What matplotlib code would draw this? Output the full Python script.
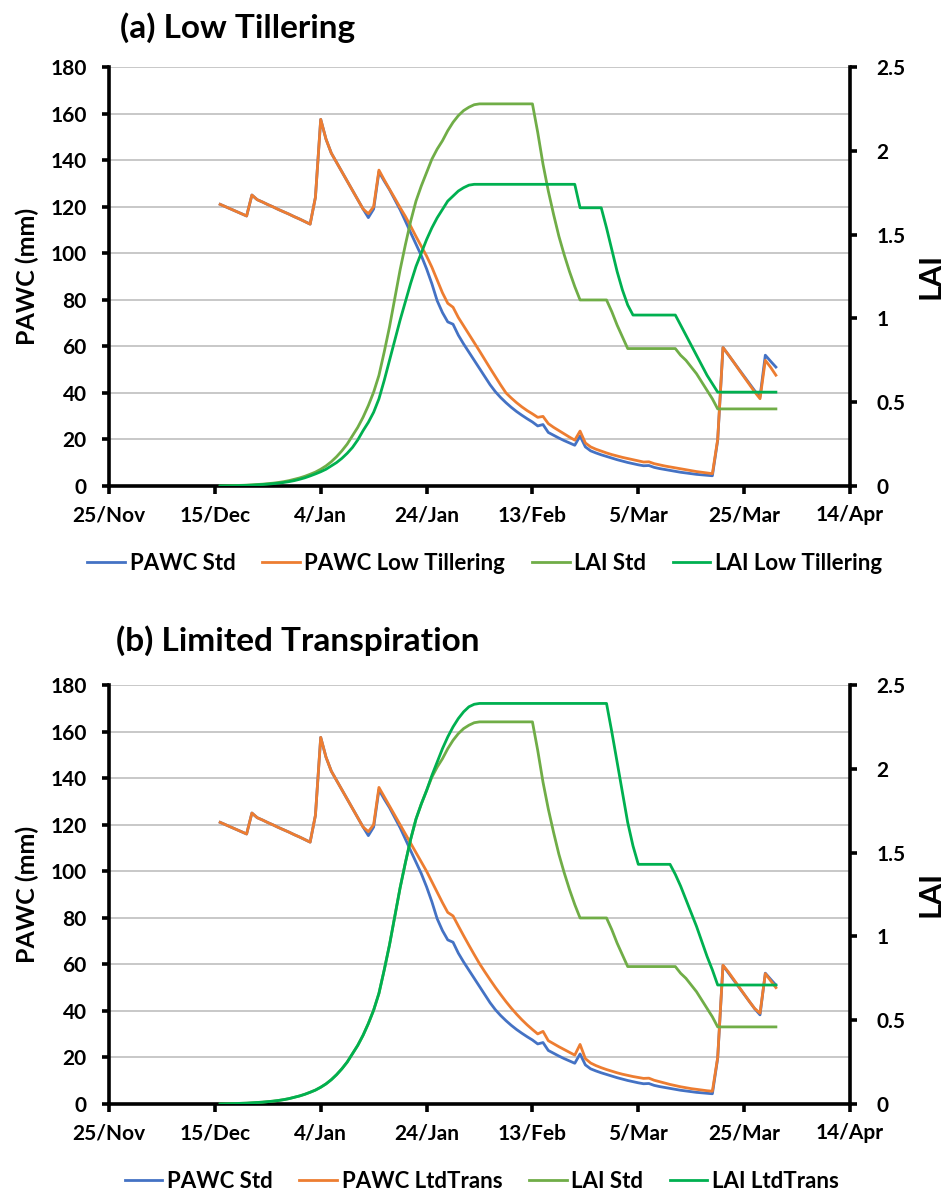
import numpy as np
import matplotlib
matplotlib.use('Agg')
import matplotlib.pyplot as plt

plt.rcParams['font.family'] = ['Lato', 'DejaVu Sans']
plt.rcParams['font.weight'] = 'bold'

# days after 25/Nov (daily model output from 16/Dec to 30/Mar)
days = np.arange(21, 127)

tick_days = [0, 20, 40, 60, 80, 100, 120, 140]
tick_labels = ['25/Nov', '15/Dec', '4/Jan', '24/Jan', '13/Feb', '5/Mar', '25/Mar', '14/Apr']

pawc_std = [
    121, 120, 119, 118, 117, 116, 125, 123, 122, 120.9,
    119.9, 118.8, 117.8, 116.8, 115.7, 114.7, 113.6, 112.5, 124, 157.5,
    149, 143, 139, 135, 131, 127, 123, 119, 115.3, 119,
    135, 131, 127.3, 123, 118.7, 113.8, 108.8, 103.9, 99, 93.3,
    86.9, 79.6, 74.5, 70.5, 69.5, 64.8, 61, 57.5, 54, 50.5,
    47, 43.5, 40.5, 38, 35.8, 33.8, 32, 30.4, 28.9, 27.5,
    25.8, 26.4, 23, 21.8, 20.6, 19.5, 18.5, 17.5, 21.5, 16.8,
    15.1, 14.2, 13.4, 12.7, 12, 11.3, 10.7, 10.1, 9.6, 9.1,
    8.7, 8.8, 8.0, 7.5, 7.1, 6.7, 6.3, 5.9, 5.6, 5.3,
    5.0, 4.8, 4.6, 4.4, 19.6, 59.5, 56.4, 53.3, 50.2, 47.1,
    44, 40.9, 38.3, 56.2, 53.6, 51.1]

pawc_low_tiller = [
    121, 120, 119, 118, 117, 116, 125, 123, 122, 120.9,
    119.9, 118.8, 117.8, 116.8, 115.7, 114.7, 113.6, 112.5, 124, 157.5,
    149, 143, 139, 135, 131, 127, 123, 119, 117, 120,
    135.7, 131.5, 127.5, 123.6, 119.6, 115.8, 111.6, 107.2, 103, 98.8,
    94, 88.5, 83, 78.5, 76.8, 72.4, 68.8, 65.2, 61.6, 58,
    54.3, 50.6, 47, 43.4, 40, 37.8, 35.8, 34, 32.4, 31,
    29.5, 29.9, 26.8, 25.2, 23.8, 22.4, 21, 19.7, 23.6, 18.5,
    16.8, 15.8, 15.0, 14.2, 13.5, 12.9, 12.3, 11.8, 11.3, 10.8,
    10.3, 10.4, 9.6, 9.1, 8.6, 8.2, 7.8, 7.4, 7.0, 6.6,
    6.2, 5.9, 5.6, 5.3, 20, 59.5, 56.5, 53.3, 50, 46.8,
    43.6, 40.4, 37.5, 54, 51, 47.6]

pawc_ltd_trans = [
    121, 120, 119, 118, 117, 116, 125, 123, 122, 120.9,
    119.9, 118.8, 117.8, 116.8, 115.7, 114.7, 113.6, 112.5, 124, 157.5,
    149, 143, 139, 135, 131, 127, 123, 119, 117, 120,
    136, 132, 128, 124, 120, 116, 112, 108, 104, 100,
    95.5, 91, 86.5, 82.3, 80.8, 76.5, 72.3, 68.2, 64.2, 60.3,
    56.8, 53.4, 50.1, 47, 44, 41.2, 38.6, 36.2, 34, 32,
    30.1, 31.2, 27.2, 25.9, 24.6, 23.4, 22.2, 21, 25.6, 19.5,
    17.6, 16.5, 15.6, 14.8, 14.1, 13.4, 12.8, 12.3, 11.8, 11.4,
    11.0, 11.1, 10.2, 9.6, 9.0, 8.4, 7.9, 7.4, 7.0, 6.6,
    6.3, 6.0, 5.7, 5.5, 20, 59.6, 56.8, 53.6, 50.4, 47.2,
    44, 41, 39, 56, 53, 50]

lai_std = ([0, 0.001, 0.002, 0.003, 0.004, 0.005, 0.007, 0.009, 0.011, 0.014,
            0.017, 0.021, 0.026, 0.032, 0.04, 0.048, 0.058, 0.07, 0.083, 0.1,
            0.12, 0.145, 0.175, 0.21, 0.25, 0.3, 0.35, 0.41, 0.48, 0.56,
            0.66, 0.8, 0.95, 1.12, 1.29, 1.44, 1.58, 1.7, 1.79, 1.87,
            1.95, 2.01, 2.06, 2.12, 2.17, 2.21, 2.24, 2.26, 2.275, 2.28]
           + [2.28] * 10
           + [2.11, 1.92, 1.76, 1.62, 1.49, 1.38, 1.28, 1.19, 1.11, 1.11,
              1.11, 1.11, 1.11, 1.11, 1.04, 0.96, 0.89, 0.82, 0.82, 0.82]
           + [0.82] * 7 + [0.78, 0.75, 0.71, 0.67, 0.62, 0.57, 0.52]
           + [0.46] * 12)

lai_low_tiller = ([0, 0.001, 0.001, 0.002, 0.003, 0.004, 0.005, 0.007, 0.009, 0.011,
                   0.014, 0.017, 0.021, 0.026, 0.032, 0.04, 0.049, 0.06, 0.072, 0.085,
                   0.1, 0.12, 0.14, 0.165, 0.195, 0.23, 0.275, 0.33, 0.38, 0.44,
                   0.52, 0.63, 0.75, 0.87, 0.99, 1.1, 1.21, 1.31, 1.39, 1.47,
                   1.54, 1.6, 1.65, 1.7, 1.73, 1.76, 1.78, 1.795, 1.8, 1.8]
                  + [1.8] * 18
                  + [1.66] * 5
                  + [1.54, 1.41, 1.28, 1.17, 1.08, 1.02]
                  + [1.02] * 8
                  + [0.96, 0.9, 0.84, 0.78, 0.72, 0.66, 0.61]
                  + [0.56] * 12)

lai_ltd_trans = (lai_std[:40]
                 + [1.96, 2.04, 2.12, 2.19, 2.25, 2.3, 2.34, 2.37, 2.385, 2.39]
                 + [2.39] * 24
                 + [2.22, 2.04, 1.86, 1.68, 1.54, 1.43]
                 + [1.43] * 6
                 + [1.37, 1.3, 1.22, 1.14, 1.06, 0.97, 0.88, 0.8]
                 + [0.71] * 12)

c_pawc_std = '#4472C4'
c_pawc_alt = '#ED7D31'
c_lai_std = '#70AD47'
c_lai_alt = '#00B050'

W, H = 950, 1191
fig = plt.figure(figsize=(W / 100, H / 100), dpi=100)


def panel(top_px, title, alt_name, pawc_alt, lai_alt, title_x, title_y, leg_x):
    left, right, bottom_px = 109, 850, top_px + 419
    ax = fig.add_axes([left / W, 1 - bottom_px / H, (right - left) / W, 419 / H])
    ax2 = ax.twinx()

    l1, = ax.plot(days, pawc_std, color=c_pawc_std, lw=2.0, label='PAWC Std')
    l2, = ax.plot(days, pawc_alt, color=c_pawc_alt, lw=2.0, label='PAWC ' + alt_name)
    l3, = ax2.plot(days, lai_std, color=c_lai_std, lw=2.0, label='LAI Std')
    l4, = ax2.plot(days, lai_alt, color=c_lai_alt, lw=2.0, label='LAI ' + alt_name)

    ax.set_xlim(0, 140)
    ax.set_ylim(0, 180)
    ax2.set_ylim(0, 2.5)
    ax.set_xticks(tick_days)
    ax.set_xticklabels(tick_labels)
    ax.set_yticks(range(0, 181, 20))
    ax2.set_yticks([0, 0.5, 1, 1.5, 2, 2.5])
    ax2.set_yticklabels(['0', '0.5', '1', '1.5', '2', '2.5'])

    ax.yaxis.grid(True, color='#BFBFBF', lw=1.2)
    ax.set_axisbelow(True)

    for a in (ax, ax2):
        a.spines['top'].set_visible(False)
        for s in ('left', 'bottom', 'right'):
            a.spines[s].set_linewidth(2.6)
            a.spines[s].set_color('black')
    ax.spines['right'].set_visible(False)
    ax2.spines['left'].set_visible(False)
    ax2.spines['bottom'].set_visible(False)

    ax.tick_params(axis='x', labelsize=15, width=2.6, length=6, pad=8)
    ax.tick_params(axis='y', labelsize=15, width=2.6, length=5, pad=11)
    ax2.tick_params(axis='y', labelsize=15, width=2.6, length=5, pad=14)

    mid_y = 1 - (top_px + 209) / H
    fig.text(27 / W, mid_y, 'PAWC (mm)', fontsize=18, fontweight='bold',
             rotation=90, ha='center', va='center')
    fig.text(931 / W, mid_y, 'LAI', fontsize=22, fontweight='bold',
             rotation=90, ha='center', va='center')

    fig.text(title_x / W, 1 - title_y / H, title, fontsize=24, fontweight='bold',
             ha='left', va='center')

    ax.legend([l1, l2, l3, l4], [h.get_label() for h in (l1, l2, l3, l4)],
              loc='center', bbox_to_anchor=(leg_x, -0.185), ncol=4, frameon=False,
              fontsize=16, handlelength=1.7, handletextpad=0.2, columnspacing=1.2)


panel(67, '(a) Low Tillering', 'Low Tillering', pawc_low_tiller, lai_low_tiller, 120, 28, 0.507)
panel(685, '(b) Limited Transpiration', 'LtdTrans', pawc_ltd_trans, lai_ltd_trans, 116, 641, 0.503)

plt.savefig('out.png', dpi=100)
